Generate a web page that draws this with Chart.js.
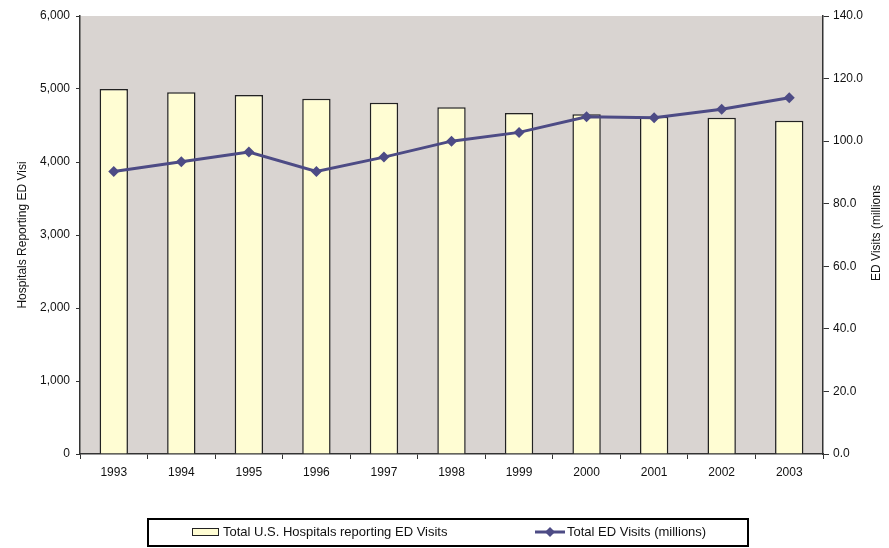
<!DOCTYPE html>
<html>
<head>
<meta charset="utf-8">
<script src="https://cdn.jsdelivr.net/npm/chart.js@4"></script>
<style>
  html, body { margin: 0; padding: 0; background: #ffffff; }
  #wrap { width: 889px; height: 548px; position: relative; }
</style>
</head>
<body>
<div id="wrap"><canvas id="c" width="889" height="548"></canvas></div>
<script>
const years = ['1993','1994','1995','1996','1997','1998','1999','2000','2001','2002','2003'];
const hospitals = [5000, 4955, 4918, 4867, 4812, 4749, 4671, 4653, 4621, 4607, 4566];
const visits = [90.3, 93.4, 96.5, 90.3, 94.9, 100.0, 102.8, 107.8, 107.5, 110.2, 113.9];
const leftTitle = 'Hospitals Reporting ED Visi';
const rightTitle = 'ED Visits (millions';
const barLabel = 'Total U.S. Hospitals reporting ED Visits';
const lineLabel = 'Total ED Visits (millions)';

const FONT = "'Liberation Sans', Arial, sans-serif";
const PLOT_BG = '#D9D4D1';
const BAR_FILL = '#FFFDD3';
const LINE_COLOR = '#4D4B85';
const AXIS = '#333333';

const plotBg = {
  id: 'plotBg',
  beforeDraw(chart) {
    const {ctx, chartArea: a} = chart;
    ctx.save();
    ctx.fillStyle = PLOT_BG;
    ctx.fillRect(a.left, a.top, a.right - a.left, a.bottom - a.top);
    ctx.restore();
  }
};

const extras = {
  id: 'extras',
  afterDraw(chart) {
    const ctx = chart.ctx;
    ctx.save();
    // right axis title (reads bottom to top)
    ctx.fillStyle = '#111';
    ctx.font = '12px ' + FONT;
    ctx.textAlign = 'center';
    ctx.textBaseline = 'middle';
    ctx.translate(877, 233);
    ctx.rotate(-Math.PI / 2);
    ctx.fillText(rightTitle, 0, 0);
    ctx.restore();

    // legend box
    ctx.save();
    ctx.strokeStyle = '#000';
    ctx.lineWidth = 2;
    ctx.strokeRect(148, 519, 600, 27);
    const cy = 532;
    // bar swatch
    ctx.fillStyle = BAR_FILL;
    ctx.fillRect(192, 528, 26, 7);
    ctx.lineWidth = 1;
    ctx.strokeStyle = '#222';
    ctx.strokeRect(192.5, 528.5, 26, 7);
    ctx.fillStyle = '#111';
    ctx.font = '13px ' + FONT;
    ctx.textAlign = 'left';
    ctx.textBaseline = 'middle';
    ctx.fillText(barLabel, 223, cy);
    // line swatch
    ctx.strokeStyle = LINE_COLOR;
    ctx.lineWidth = 3;
    ctx.beginPath();
    ctx.moveTo(535, cy);
    ctx.lineTo(565, cy);
    ctx.stroke();
    ctx.fillStyle = LINE_COLOR;
    ctx.beginPath();
    ctx.moveTo(550, cy - 5);
    ctx.lineTo(555, cy);
    ctx.lineTo(550, cy + 5);
    ctx.lineTo(545, cy);
    ctx.closePath();
    ctx.fill();
    ctx.fillStyle = '#111';
    ctx.fillText(lineLabel, 567, cy);
    ctx.restore();
  }
};

new Chart(document.getElementById('c'), {
  data: {
    labels: years,
    datasets: [
      {
        type: 'line',
        label: lineLabel,
        data: visits,
        yAxisID: 'y1',
        order: 1,
        borderColor: LINE_COLOR,
        backgroundColor: LINE_COLOR,
        borderWidth: 3,
        tension: 0,
        pointStyle: 'rectRot',
        pointRadius: 5.5,
        pointBackgroundColor: LINE_COLOR,
        pointBorderColor: LINE_COLOR,
        pointBorderWidth: 0
      },
      {
        type: 'bar',
        label: barLabel,
        data: hospitals,
        yAxisID: 'y',
        order: 2,
        backgroundColor: BAR_FILL,
        borderColor: '#222222',
        borderWidth: 1.5,
        barPercentage: 0.42,
        categoryPercentage: 1.0
      }
    ]
  },
  options: {
    responsive: false,
    animation: false,
    devicePixelRatio: 1,
    layout: { padding: { top: 16, bottom: 64, left: 0, right: 0 } },
    plugins: {
      legend: { display: false },
      tooltip: { enabled: false }
    },
    scales: {
      x: {
        type: 'category',
        offset: true,
        grid: { display: true, drawOnChartArea: false, drawTicks: true, tickLength: 5, offset: true, color: AXIS, lineWidth: 1 },
        border: { display: true, color: AXIS, width: 1.5 },
        ticks: { color: '#111', font: { family: FONT, size: 12 }, padding: 6, maxRotation: 0, autoSkip: false },
        afterFit(s) { s.height = 30; }
      },
      y: {
        position: 'left',
        min: 0, max: 6000,
        ticks: {
          stepSize: 1000,
          color: '#111',
          font: { family: FONT, size: 12 },
          padding: 6,
          callback: v => v.toLocaleString('en-US')
        },
        grid: { display: true, drawOnChartArea: false, drawTicks: true, tickLength: 4, color: AXIS },
        border: { display: true, color: AXIS, width: 1.5 },
        title: { display: true, text: leftTitle, color: '#111', font: { family: FONT, size: 12 }, padding: { top: 15, bottom: 0 } },
        afterFit(s) { s.width = 80; }
      },
      y1: {
        position: 'right',
        min: 0, max: 140,
        ticks: {
          stepSize: 20,
          color: '#111',
          font: { family: FONT, size: 12 },
          padding: 4,
          callback: v => Number(v).toFixed(1)
        },
        grid: { display: true, drawOnChartArea: false, drawTicks: true, tickLength: 6, color: AXIS },
        border: { display: true, color: AXIS, width: 1.5 },
        afterFit(s) { s.width = 66; }
      }
    }
  },
  plugins: [plotBg, extras]
});
</script>
</body>
</html>
